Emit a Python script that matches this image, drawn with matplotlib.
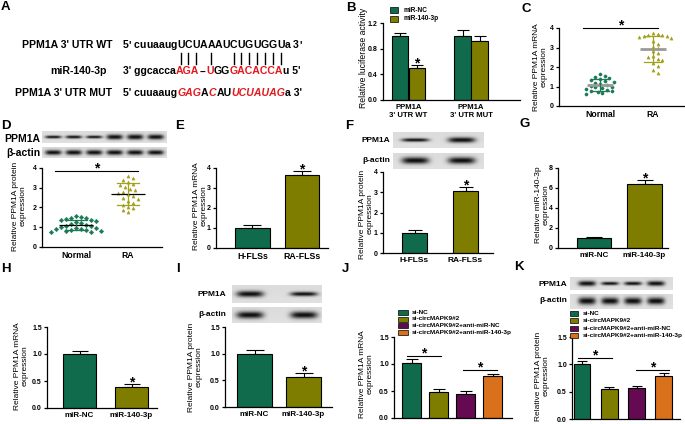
import numpy as np
import matplotlib
matplotlib.use('Agg')
import matplotlib.pyplot as plt
from matplotlib.lines import Line2D
from matplotlib.patches import Rectangle

plt.rcParams['font.family'] = ['Liberation Sans', 'DejaVu Sans']

W, H = 685, 424

# ---------------- data ----------------
# A
a_labels = ["PPM1A 3' UTR WT", "miR-140-3p", "PPM1A 3' UTR MUT"]
a_wt_seq = [("5' cuuaaug", 'k', False), ("UCUAAAUCUGUGGU", 'k', False), ("a 3'", 'k', False)]
a_mir_seq = [("3' ggcacca", 'k', False), ("AGA", 'r', False), ("--", 'k', False), ("U", 'r', False),
             ("GG", 'k', False), ("GACACCA", 'r', False), ("u 5'", 'k', False)]
a_mut_seq = [("5' cuuaaug", 'k', False), ("GAG", 'r', True), ("A", 'k', False), ("C", 'r', True),
             ("AU", 'k', False), ("UCUAUAG", 'r', True), ("a 3'", 'k', False)]
a_pair_index = [0, 1, 2, 4, 7, 8, 9, 10, 11, 12, 13]

# B
b_groups = ["PPM1A\n3' UTR WT", "PPM1A\n3' UTR MUT"]
b_series = ["miR-NC", "miR-140-3p"]
b_nc = [1.00, 1.00]
b_nc_err = [0.05, 0.09]
b_mir = [0.50, 0.92]
b_mir_err = [0.04, 0.08]

# C
c_groups = ["Normal", "RA"]
c_normal = [1.62, 1.55, 1.48, 1.45, 1.38, 1.33, 1.30, 1.25, 1.20, 1.12, 1.08, 1.05, 1.00, 0.95,
            0.90, 0.85, 0.80, 0.78, 0.75, 0.70, 0.65, 0.60]
c_ra = [3.72, 3.68, 3.65, 3.62, 3.60, 3.58, 3.55, 3.50, 3.35, 3.20, 3.05, 2.80, 2.55, 2.40,
        2.95, 2.70, 2.50, 2.35, 2.20, 2.05, 1.85, 1.70]

# D
d_groups = ["Normal", "RA"]
d_normal = [1.55, 1.50, 1.47, 1.45, 1.42, 1.38, 1.35, 1.30, 1.25, 1.20, 1.15, 1.12, 1.08, 1.05,
            1.00, 0.97, 0.95, 0.92, 0.90, 0.88, 0.85, 0.82, 0.80, 0.78, 0.75]
d_ra = [3.60, 3.50, 3.40, 3.30, 3.20, 3.15, 3.05, 2.95, 2.90, 2.80, 2.75, 2.70, 2.60, 2.50,
        2.45, 2.35, 2.25, 2.15, 2.05, 1.95, 1.85, 1.75]
d_blot_ppm1a = [0.12, 0.13, 0.12, 0.21, 0.22, 0.21]
d_blot_actin = [0.22, 0.23, 0.23, 0.23, 0.23, 0.22]

# E
e_cats = ["H-FLSs", "RA-FLSs"]
e_vals = [1.00, 3.63]
e_errs = [0.13, 0.20]

# F
f_cats = ["H-FLSs", "RA-FLSs"]
f_vals = [1.00, 3.05]
f_errs = [0.12, 0.20]
f_blot_ppm1a = [0.11, 0.17]
f_blot_actin = [0.20, 0.20]

# G
g_cats = ["miR-NC", "miR-140-3p"]
g_vals = [1.00, 6.35]
g_errs = [0.12, 0.45]

# H
h_cats = ["miR-NC", "miR-140-3p"]
h_vals = [1.00, 0.39]
h_errs = [0.05, 0.05]

# I
i_cats = ["miR-NC", "miR-140-3p"]
i_vals = [1.00, 0.57]
i_errs = [0.07, 0.06]
i_blot_ppm1a = [0.17, 0.12]
i_blot_actin = [0.22, 0.22]

# J / K
jk_series = ["si-NC", "si-circMAPK9#2", "si-circMAPK9#2+anti-miR-NC", "si-circMAPK9#2+anti-miR-140-3p"]
j_vals = [1.01, 0.48, 0.45, 0.77]
j_errs = [0.08, 0.05, 0.045, 0.05]
k_vals = [1.00, 0.55, 0.56, 0.79]
k_errs = [0.07, 0.04, 0.04, 0.05]
k_blot_ppm1a = [0.20, 0.13, 0.14, 0.19]
k_blot_actin = [0.23, 0.22, 0.22, 0.22]

GREEN = '#0f6b4b'
OLIVE = '#7f7d00'
PURPLE = '#650a52'
ORANGE = '#d8701c'
RED = '#e3191e'
jk_colors = [GREEN, OLIVE, PURPLE, ORANGE]

# ---------------- helpers ----------------
fig = plt.figure(figsize=(W / 100, H / 100), dpi=100)


def fx(px):
    return px / W


def fy(py):
    return 1 - py / H


def add_ax(xl, xr, ytop, ybot):
    return fig.add_axes([xl / W, 1 - ybot / H, (xr - xl) / W, (ybot - ytop) / H])


def style(ax, ymax, ticks, fmt, fs=5.0):
    ax.set_ylim(0, ymax)
    ax.set_yticks(ticks)
    ax.set_yticklabels([fmt.format(t) for t in ticks], fontsize=fs, fontweight='bold')
    for s in ['top', 'right']:
        ax.spines[s].set_visible(False)
    for s in ['left', 'bottom']:
        ax.spines[s].set_linewidth(0.9)
    ax.tick_params(axis='y', length=2.5, width=0.9, pad=1.2)
    ax.tick_params(axis='x', length=0, pad=2.5)
    ax.patch.set_alpha(0)


def xlabels(ax, pos, labels, fs, pad=2.5):
    ax.set_xticks(pos)
    ax.set_xticklabels(labels, fontsize=fs, fontweight='bold', linespacing=1.15)
    ax.tick_params(axis='x', pad=pad)


def ylabel(text, xc, yc, fs=6.0):
    fig.text(fx(xc), fy(yc), text, rotation=90, ha='center', va='center', fontsize=fs,
             linespacing=1.15)


def panel_label(s, x, y):
    fig.text(fx(x), fy(y), s, fontsize=9.5, fontweight='bold', ha='left', va='top')


def bars(ax, pos, vals, errs, colors, width, cap_px):
    ax.bar(pos, vals, width, color=colors, edgecolor='black', linewidth=0.8, zorder=2)
    ax.errorbar(pos, vals, yerr=[np.zeros(len(vals)), errs], fmt='none', ecolor='black',
                elinewidth=0.8, capsize=cap_px * 0.72, capthick=0.8, zorder=1, clip_on=False)


def star(ax, x, y, dy=-1.0, fs=10):
    ax.annotate('*', xy=(x, y), xytext=(0, dy), textcoords='offset points', ha='center',
                va='baseline', fontsize=fs, fontweight='bold', annotation_clip=False)


def sig(ax, x0, x1, y, dy=-1.0):
    ax.plot([x0, x1], [y, y], color='black', lw=0.8, clip_on=False)
    star(ax, (x0 + x1) / 2, y, dy)


def blot(xl, xr, ytop, ybot, n, thick, lane_hw, margin):
    ax = add_ax(xl, xr, ytop, ybot)
    ax.axis('off')
    nx, ny = int((xr - xl) * 4), int((ybot - ytop) * 4)
    X = np.linspace(0, 1, nx)[None, :]
    Y = np.linspace(0, 1, ny)[:, None]
    img = np.full((ny, nx), 0.87) + 0.02 * (Y - 0.5)
    centers = np.linspace(margin, 1 - margin, n)
    for c, t in zip(centers, thick):
        px = np.exp(-np.abs((X - c) / lane_hw) ** 4)
        py = np.exp(-((Y - 0.5) / t) ** 2)
        img = img - 0.82 * px * py
    ax.imshow(np.clip(img, 0, 1), cmap='gray', vmin=0, vmax=1, aspect='auto',
              extent=(0, 1, 0, 1), interpolation='bilinear')
    return ax


def blot_label(text, xr, yc, fs):
    fig.text(fx(xr), fy(yc), text, ha='right', va='center', fontsize=fs, fontweight='bold')


def legend(x_patch, rows_y, names, colors, fs, pw=9, ph=5, gap=4):
    for yy, nm, col in zip(rows_y, names, colors):
        fig.patches.append(Rectangle((fx(x_patch), fy(yy + ph / 2)), pw / W, ph / H,
                                     transform=fig.transFigure, facecolor=col,
                                     edgecolor='black', linewidth=0.5))
        fig.text(fx(x_patch + pw + gap), fy(yy), nm, ha='left', va='center', fontsize=fs,
                 fontweight='bold')


def swarm(values, center, ypx, unitpx, d=4.4):
    vals = np.asarray(values, float)
    order = np.argsort(-vals)
    placed = []
    xs = np.zeros(len(vals))
    cands = [0]
    for k in range(1, 16):
        cands += [k * d * 0.5, -k * d * 0.5]
    for i in order:
        y = vals[i] * ypx
        for cx in cands:
            if all((cx - px) ** 2 + (y - py) ** 2 >= d * d for px, py in placed):
                break
        placed.append((cx, y))
        xs[i] = center + cx / unitpx
    return xs


def scatter_panel(ax, groups, datas, colors, markers, ypx, unitpx, mean_color, mean_lw,
                  mean_hw, sd_hw, d=4.4):
    for gi, (data, col, mk) in enumerate(zip(datas, colors, markers)):
        xs = swarm(data, gi, ypx, unitpx, d)
        ax.plot(xs, data, linestyle='none', marker=mk, ms=2.3, color=col, mec=col, mew=0.3,
                zorder=2)
        m, sd = np.mean(data), np.std(data, ddof=1)
        ax.plot([gi - mean_hw, gi + mean_hw], [m, m], color=mean_color, lw=mean_lw, zorder=3,
                solid_capstyle='butt')
        ax.plot([gi, gi], [m - sd, m + sd], color=col, lw=0.9, zorder=3)
        for yv in (m - sd, m + sd):
            ax.plot([gi - sd_hw, gi + sd_hw], [yv, yv], color=col, lw=0.9, zorder=3)


# ---------------- Panel A ----------------
axA = fig.add_axes([0, 0, 1, 1])
axA.axis('off')
axA.set_xlim(0, 1)
axA.set_ylim(0, 1)
FS_A = 7.6
baselines = [48.5, 74.5, 95.5]
label_right = [112, 107, 112]
for lab, xr, bl in zip(a_labels, label_right, baselines):
    fig.text(fx(xr), fy(bl), lab, ha='right', va='baseline', fontsize=FS_A, fontweight='bold')


def seq_line(parts, x0, bl, per_char=False):
    texts = []
    prev = None
    for s, c, it in parts:
        chunks = list(s) if per_char else [s]
        for ch in chunks:
            kw = dict(fontsize=FS_A, fontweight='bold', color=(RED if c == 'r' else 'black'),
                      style=('italic' if it else 'normal'))
            if prev is None:
                t = axA.text(fx(x0), fy(bl), ch, ha='left', va='baseline', **kw)
            else:
                t = axA.annotate(ch, xy=(1, 0), xycoords=prev, ha='left', va='bottom', **kw)
            texts.append(t)
            prev = t
    return texts


wt_texts = seq_line(a_wt_seq, 123, baselines[0], per_char=True)
seq_line(a_mir_seq, 123, baselines[1])
seq_line(a_mut_seq, 123, baselines[2])
panel_label('A', 1, 1)

# ---------------- Panel B ----------------
axB = add_ax(383, 520, 23, 100)
style(axB, 1.2, [0, 0.4, 0.8, 1.2], '{:.1f}', fs=5.0)
axB.set_xlim(-0.408, 1.784)
gpos = np.arange(len(b_groups))
bw = 0.264
off = 0.136
bars(axB, gpos - off, b_nc, b_nc_err, GREEN, bw, 6)
bars(axB, gpos + off, b_mir, b_mir_err, OLIVE, bw, 6)
xlabels(axB, gpos, b_groups, 5.6, pad=2.8)
star(axB, gpos[0] + off, b_mir[0] + b_mir_err[0], dy=-1.5)
ylabel("Relative luciferase activity", 363, 58, fs=6.2)
legend(390, [10, 19], b_series, [GREEN, OLIVE], 4.7, pw=8, ph=5, gap=5)
panel_label('B', 346, 2)

# ---------------- Panel C ----------------
axC = add_ax(559, 685, 28, 106)
style(axC, 4, [0, 1, 2, 3, 4], '{:d}', fs=5.0)
axC.set_xlim(-0.774, 1.604)
scatter_panel(axC, c_groups, [c_normal, c_ra], ['#1b7a55', '#a3a01f'], ['o', '^'], 19.5, 53,
              '#9a9a9a', 2.0, 0.25, 0.17, d=4.6)
xlabels(axC, [0, 1], c_groups, 6.2, pad=3)
sig(axC, -0.32, 1.1, 4.0)
ylabel("Relative PPM1A mRNA\nexpression", 540.5, 67, fs=6.0)
panel_label('C', 521, 3)

# ---------------- Panel D ----------------
blot(42, 167, 131, 143, 6, d_blot_ppm1a, 0.065, 0.09)
blot(42, 167, 147, 158, 6, d_blot_actin, 0.065, 0.09)
blot_label("PPM1A", 40, 139, 7.5)
blot_label("β-actin", 40, 153, 7.5)
axD = add_ax(42, 162, 168, 247)
style(axD, 4, [0, 1, 2, 3, 4], '{:d}', fs=5.0)
axD.set_xlim(-0.654, 1.654)
scatter_panel(axD, d_groups, [d_normal, d_ra], ['#1b7a55', '#a3a01f'], ['D', '^'], 19.75, 52,
              'black', 0.9, 0.33, 0.22, d=5.0)
xlabels(axD, [0, 1], d_groups, 6.2, pad=3)
sig(axD, -0.4, 1.2, 3.85)
ylabel("Relative PPM1A protein\nexpression", 19.5, 206, fs=6.0)
panel_label('D', 1, 120)

# ---------------- Panel E ----------------
axE = add_ax(216, 328, 168, 248)
style(axE, 4, [0, 1, 2, 3, 4], '{:d}', fs=5.0)
axE.set_xlim(-0.737, 1.525)
bars(axE, np.arange(2), e_vals, e_errs, [GREEN, OLIVE], 0.7, 9)
xlabels(axE, np.arange(2), e_cats, 6.3, pad=3)
star(axE, 1, e_vals[1] + e_errs[1], dy=-1.5)
ylabel("Relative PPM1A mRNA\nexpression", 200, 206, fs=6.0)
panel_label('E', 175, 120)

# ---------------- Panel F ----------------
blot(393, 483, 132, 148, 2, f_blot_ppm1a, 0.15, 0.245)
blot(393, 483, 153, 169, 2, f_blot_actin, 0.15, 0.245)
blot_label("PPM1A", 390, 141, 6.0)
blot_label("β-actin", 390, 161, 6.0)
axF = add_ax(383, 493, 172, 253)
style(axF, 4, [0, 1, 2, 3, 4], '{:d}', fs=5.0)
axF.set_xlim(-0.618, 1.539)
bars(axF, np.arange(2), f_vals, f_errs, [GREEN, OLIVE], 0.49, 7)
xlabels(axF, np.arange(2), f_cats, 6.0, pad=3)
star(axF, 1, f_vals[1] + f_errs[1], dy=-1.5)
ylabel("Relative PPM1A protein\nexpression", 366.5, 214, fs=6.0)
panel_label('F', 345, 120)

# ---------------- Panel G ----------------
axG = add_ax(558, 668, 168, 248)
style(axG, 8, [0, 2, 4, 6, 8], '{:d}', fs=5.0)
axG.set_xlim(-0.713, 1.465)
bars(axG, np.arange(2), g_vals, g_errs, [GREEN, OLIVE], 0.68, 8)
xlabels(axG, np.arange(2), g_cats, 5.8, pad=3)
star(axG, 1, g_vals[1] + g_errs[1], dy=-1.5)
ylabel("Relative miR-140-3p\nexpression", 542.5, 205, fs=6.0)
panel_label('G', 519, 118)

# ---------------- Panel H ----------------
axH = add_ax(47, 157, 327, 408)
style(axH, 1.5, [0, 0.5, 1.0, 1.5], '{:.1f}', fs=5.0)
axH.set_xlim(-0.625, 1.49)
bars(axH, np.arange(2), h_vals, h_errs, [GREEN, OLIVE], 0.65, 8)
xlabels(axH, np.arange(2), h_cats, 5.8, pad=3)
star(axH, 1, h_vals[1] + h_errs[1], dy=-1.5)
ylabel("Relative PPM1A mRNA\nexpression", 21, 366, fs=6.0)
panel_label('H', 1, 263)

# ---------------- Panel I ----------------
blot(232, 322, 285, 303, 2, i_blot_ppm1a, 0.15, 0.2)
blot(232, 322, 307, 323, 2, i_blot_actin, 0.15, 0.2)
blot_label("PPM1A", 226, 295, 6.0)
blot_label("β-actin", 226, 315, 6.0)
axI = add_ax(225, 332, 327, 407)
style(axI, 1.5, [0, 0.5, 1.0, 1.5], '{:.1f}', fs=5.0)
axI.set_xlim(-0.602, 1.58)
bars(axI, np.arange(2), i_vals, i_errs, [GREEN, OLIVE], 0.73, 9)
xlabels(axI, np.arange(2), i_cats, 5.8, pad=3)
star(axI, 1, i_vals[1] + i_errs[1], dy=-1.5)
ylabel("Relative PPM1A protein\nexpression", 195.5, 367, fs=6.0)
panel_label('I', 176, 263)

# ---------------- Panel J ----------------
axJ = add_ax(394, 512, 337, 418)
style(axJ, 1.5, [0, 0.5, 1.0, 1.5], '{:.1f}', fs=5.0)
axJ.set_xlim(-0.648, 3.72)
bars(axJ, np.arange(4), j_vals, j_errs, jk_colors, 0.7, 6)
axJ.set_xticks([])
sig(axJ, -0.17, 1.1, 1.14)
sig(axJ, 1.9, 3.17, 0.89)
ylabel("Relative PPM1A mRNA\nexpression", 366, 374, fs=6.0)
legend(398, [312.3, 319, 325.7, 332.3], jk_series, jk_colors, 4.6, pw=10, ph=5, gap=4)
panel_label('J', 342, 263)

# ---------------- Panel K ----------------
blot(570, 673, 277, 290, 4, k_blot_ppm1a, 0.085, 0.165)
blot(570, 673, 294, 309, 4, k_blot_actin, 0.085, 0.165)
blot_label("PPM1A", 567, 284, 6.0)
blot_label("β-actin", 567, 301, 6.0)
axK = add_ax(572, 680, 337, 419)
style(axK, 1.5, [0, 0.5, 1.0, 1.5], '{:.1f}', fs=5.0)
axK.set_xlim(-0.366, 3.59)
bars(axK, np.arange(4), k_vals, k_errs, jk_colors, 0.62, 5)
axK.set_xticks([])
sig(axK, -0.15, 1.1, 1.11)
sig(axK, 1.98, 3.19, 0.89)
ylabel("Relative PPM1A protein\nexpression", 542, 376, fs=6.0)
legend(570, [313.3, 320.7, 328.3, 335.7], jk_series, jk_colors, 4.6, pw=8, ph=5, gap=5)
panel_label('K', 514, 261)

# ---- pairing bars in panel A (from character positions) ----
fig.canvas.draw()
renderer = fig.canvas.get_renderer()
seed_start = len(a_wt_seq[0][0])
for idx in a_pair_index:
    bb = wt_texts[seed_start + idx].get_window_extent(renderer)
    xc = (bb.x0 + bb.x1) / 2
    fig.add_artist(Line2D([xc / W, xc / W], [fy(53), fy(64)], transform=fig.transFigure,
                          color='black', lw=1.0))

fig.savefig('out.png', dpi=100)
